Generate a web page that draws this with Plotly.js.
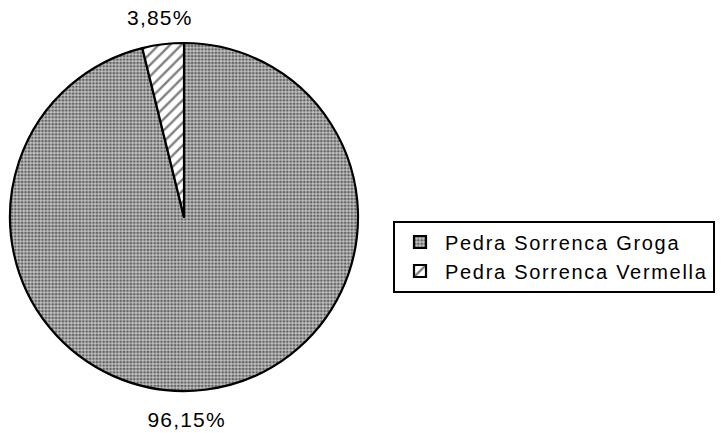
<!DOCTYPE html>
<html><head><meta charset="utf-8">
<script src="https://cdn.plot.ly/plotly-3.0.1.min.js"></script>
<style>
body{margin:0;background:#fff}#c{width:724px;height:433px}
text.legendtext{letter-spacing:1.7px}
g.annotation-text-g text{letter-spacing:1.2px}
</style>
</head><body><div id="c"></div>
<script>
const labels = ["Pedra Sorrenca Groga", "Pedra Sorrenca Vermella"];
const values = [96.15, 3.85];
const patterns = [".", "/"];

const fmt = v => v.toFixed(2).replace(".", ",") + "%";

const trace = {
  type: "pie",
  labels: labels,
  values: values,
  sort: false,
  direction: "clockwise",
  rotation: 0,
  textinfo: "none",
  marker: {
    colors: ["#bdbdbd", "#ffffff"],
    line: {color: "#000", width: 2.2},
    pattern: {shape: patterns, fgcolor: ["#000", "#000"], bgcolor: ["#c4c4c4", "#fff"], size: [3.4, 8], solidity: [0.5, 0.3], fillmode: "overlay"}
  },
  domain: {x: [10/724, 358/724], y: [1 - 391/433, 1 - 43/433]},
  hoverinfo: "none"
};

const labelPos = [[186, 419.5], [160, 17.5]];
const annotations = values.map((v, i) => ({
  text: fmt(v),
  xref: "paper", yref: "paper",
  x: labelPos[i][0] / 724, y: 1 - labelPos[i][1] / 433,
  xanchor: "center", yanchor: "middle",
  showarrow: false,
  font: {family: "Liberation Sans, Arial, sans-serif", size: 21, color: "#000"}
}));

const layout = {
  width: 724, height: 433,
  margin: {l: 0, r: 0, t: 0, b: 0},
  paper_bgcolor: "#fff",
  font: {family: "Liberation Sans, Arial, sans-serif", size: 20, color: "#000"},
  showlegend: true,
  annotations: annotations,
  legend: {
    x: 393/724, xanchor: "left", y: 1 - 256.5/433, yanchor: "middle",
    bordercolor: "#000", borderwidth: 2, bgcolor: "#fff",
    itemwidth: 40,
    font: {size: 20}
  }
};
Plotly.newPlot("c", [trace], layout, {displayModeBar: false, staticPlot: true});
</script></body></html>
